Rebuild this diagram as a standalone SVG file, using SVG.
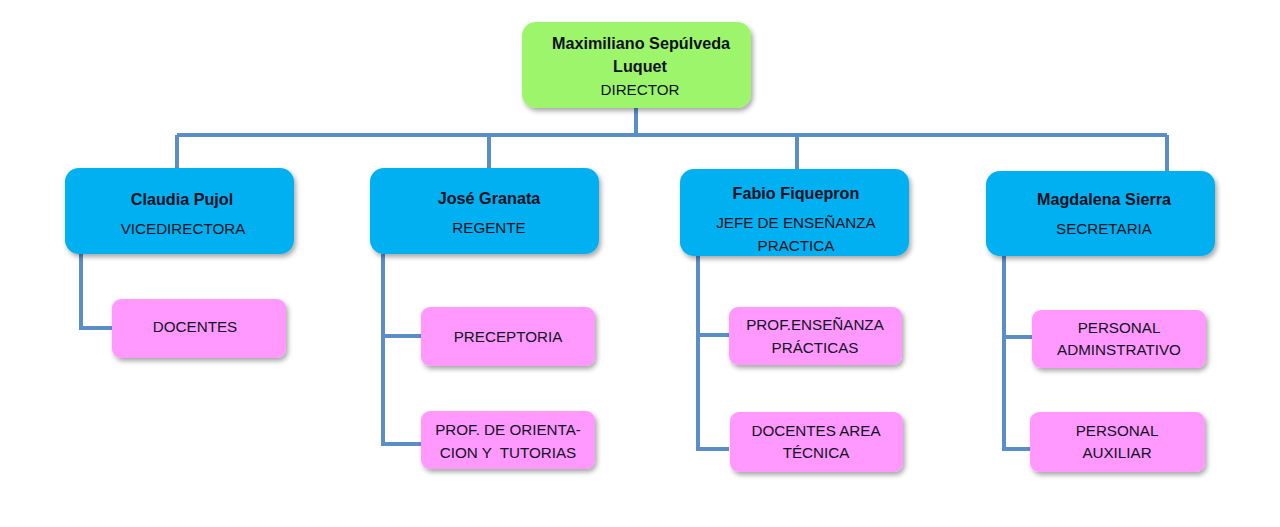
<svg xmlns="http://www.w3.org/2000/svg" width="1280" height="527" viewBox="0 0 1280 527">
<defs>
<filter id="sh" x="-10%" y="-10%" width="130%" height="140%">
<feDropShadow dx="2" dy="3" stdDeviation="2.5" flood-color="#000" flood-opacity="0.35"/>
</filter>
<style>
.top{fill:#9cf56b}
.blue{fill:#00b0f0}
.pink{fill:#ff99ff}
.box{filter:url(#sh)}
text{font-family:"Liberation Sans",Arial,sans-serif;font-size:15.2px;fill:#111122;text-anchor:middle;white-space:pre}
.b{font-weight:bold;font-size:16.2px}
.conn{fill:none;stroke:#5b8ec6;stroke-width:4}
</style>
</defs>
<rect width="1280" height="527" fill="#fff"/>
<g id="connectors" class="conn">
<path d="M636 108V135M177 135H1167M177 135V170M489 135V170M797 135V170M1167 135V172"/>
<path d="M81 254V328H112"/>
<path d="M383 254V444H421M383 336H421"/>
<path d="M698 256V449H729M698 335H729"/>
<path d="M1004 256V449H1030M1004 337H1032"/>
</g>
<g id="director">
<rect class="box top" x="522" y="22" width="229" height="86" rx="14"/>
<text class="b" x="641" y="49">Maximiliano Sepúlveda</text>
<text class="b" x="640" y="72">Luquet</text>
<text x="640" y="95">DIRECTOR</text>
</g>
<g id="claudia">
<rect class="box blue" x="65" y="168" width="229" height="86" rx="14"/>
<text class="b" x="182" y="205">Claudia Pujol</text>
<text x="183" y="234">VICEDIRECTORA</text>
</g>
<g id="jose">
<rect class="box blue" x="370" y="168" width="229" height="86" rx="14"/>
<text class="b" x="489" y="204">José Granata</text>
<text x="489" y="233">REGENTE</text>
</g>
<g id="fabio">
<rect class="box blue" x="680" y="169" width="229" height="87" rx="14"/>
<text class="b" x="796" y="199">Fabio Fiquepron</text>
<text x="796" y="228">JEFE DE ENSEÑANZA</text>
<text x="796" y="251">PRACTICA</text>
</g>
<g id="magdalena">
<rect class="box blue" x="986" y="171" width="229" height="85" rx="14"/>
<text class="b" x="1104" y="205">Magdalena Sierra</text>
<text x="1104" y="234">SECRETARIA</text>
</g>
<g id="docentes">
<rect class="box pink" x="112" y="299" width="174" height="59" rx="9"/>
<text x="195" y="332">DOCENTES</text>
</g>
<g id="preceptoria">
<rect class="box pink" x="421" y="307" width="174" height="59" rx="9"/>
<text x="508" y="342">PRECEPTORIA</text>
</g>
<g id="orientacion">
<rect class="box pink" x="421" y="411" width="174" height="58" rx="9"/>
<text x="508" y="435">PROF. DE ORIENTA-</text>
<text x="508" y="458">CION Y  TUTORIAS</text>
</g>
<g id="prof-ensenanza">
<rect class="box pink" x="729" y="307" width="173" height="58" rx="9"/>
<text x="815" y="330">PROF.ENSEÑANZA</text>
<text x="815" y="353">PRÁCTICAS</text>
</g>
<g id="docentes-area">
<rect class="box pink" x="730" y="412" width="173" height="60" rx="9"/>
<text x="816" y="436">DOCENTES AREA</text>
<text x="816" y="458">TÉCNICA</text>
</g>
<g id="personal-admin">
<rect class="box pink" x="1032" y="310" width="174" height="58" rx="9"/>
<text x="1119" y="333">PERSONAL</text>
<text x="1119" y="355">ADMINSTRATIVO</text>
</g>
<g id="personal-aux">
<rect class="box pink" x="1030" y="412" width="175" height="60" rx="9"/>
<text x="1117" y="436">PERSONAL</text>
<text x="1117" y="458">AUXILIAR</text>
</g>
</svg>
